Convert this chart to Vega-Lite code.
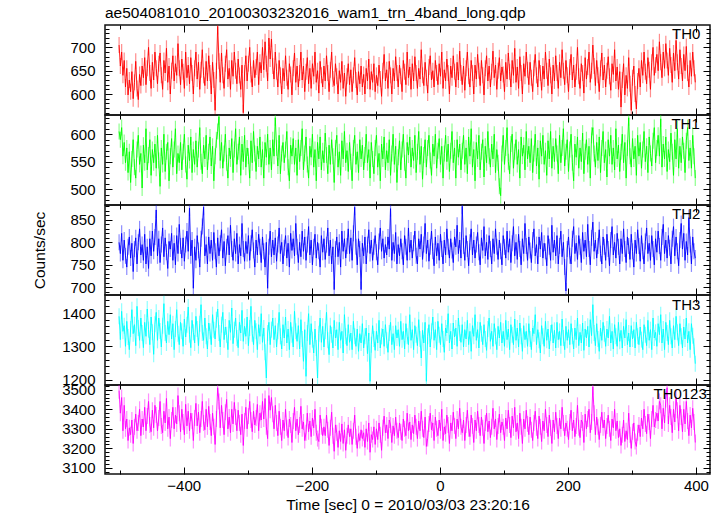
{
"$schema":"https://vega.github.io/schema/vega-lite/v6.json",
"padding":{"left":32,"top":6,"right":5,"bottom":0},
"title":{"text":"ae504081010_20100303232016_wam1_trn_4band_long.qdp","anchor":"start","frame":"group","fontSize":15.5,"fontWeight":"normal","font":"Liberation Sans","color":"#000","offset":2},
"spacing":0,
"bounds":"flush",
"config":{"view":{"stroke":"#111","strokeWidth":1.5},"axis":{"labelFont":"Liberation Sans","labelFontSize":15,"labelColor":"#000","titleFont":"Liberation Sans","titleFontSize":15.5,"titleFontWeight":"normal","titleColor":"#000","domain":false,"grid":false,"tickColor":"#000","tickWidth":1}},
"data":{"values":[
{"t":-501,"a":705,"b":605,"c":800,"d":1390,"e":3495},
{"t":-499,"a":660,"b":590,"c":775,"d":1320,"e":3380},
{"t":-497,"a":690,"b":612,"c":820,"d":1405,"e":3460},
{"t":-495,"a":640,"b":560,"c":760,"d":1345,"e":3290},
{"t":-493,"a":672,"b":585,"c":805,"d":1362,"e":3420},
{"t":-491,"a":615,"b":548,"c":770,"d":1300,"e":3300},
{"t":-489,"a":655,"b":575,"c":745,"d":1375,"e":3350},
{"t":-487,"a":598,"b":530,"c":790,"d":1328,"e":3240},
{"t":-485,"a":630,"b":568,"c":812,"d":1290,"e":3305},
{"t":-483,"a":605,"b":512,"c":765,"d":1352,"e":3270},
{"t":-481,"a":648,"b":555,"c":798,"d":1410,"e":3345},
{"t":-479,"a":590,"b":590,"c":735,"d":1338,"e":3225},
{"t":-477,"a":625,"b":540,"c":785,"d":1365,"e":3310},
{"t":-475,"a":670,"b":520,"c":810,"d":1302,"e":3375},
{"t":-473,"a":612,"b":572,"c":752,"d":1420,"e":3290},
{"t":-471,"a":588,"b":598,"c":800,"d":1355,"e":3330},
{"t":-469,"a":642,"b":545,"c":830,"d":1318,"e":3400},
{"t":-467,"a":618,"b":565,"c":772,"d":1385,"e":3265},
{"t":-465,"a":660,"b":502,"c":795,"d":1340,"e":3350},
{"t":-463,"a":635,"b":580,"c":760,"d":1296,"e":3310},
{"t":-461,"a":678,"b":548,"c":818,"d":1372,"e":3410},
{"t":-459,"a":620,"b":610,"c":752,"d":1330,"e":3290},
{"t":-457,"a":655,"b":535,"c":790,"d":1412,"e":3365},
{"t":-455,"a":700,"b":562,"c":742,"d":1350,"e":3440},
{"t":-453,"a":645,"b":590,"c":808,"d":1305,"e":3320},
{"t":-451,"a":612,"b":525,"c":770,"d":1388,"e":3285},
{"t":-449,"a":668,"b":572,"c":825,"d":1342,"e":3395},
{"t":-447,"a":630,"b":548,"c":780,"d":1276,"e":3305},
{"t":-445,"a":690,"b":582,"c":812,"d":1366,"e":3420},
{"t":-443,"a":655,"b":538,"c":872,"d":1402,"e":3370},
{"t":-441,"a":622,"b":598,"c":770,"d":1318,"e":3290},
{"t":-439,"a":665,"b":552,"c":808,"d":1385,"e":3355},
{"t":-437,"a":688,"b":505,"c":755,"d":1346,"e":3440},
{"t":-435,"a":640,"b":575,"c":795,"d":1298,"e":3315},
{"t":-433,"a":610,"b":545,"c":832,"d":1362,"e":3280},
{"t":-431,"a":672,"b":600,"c":768,"d":1428,"e":3390},
{"t":-429,"a":645,"b":532,"c":810,"d":1340,"e":3330},
{"t":-427,"a":698,"b":568,"c":778,"d":1310,"e":3455},
{"t":-425,"a":625,"b":585,"c":742,"d":1375,"e":3300},
{"t":-423,"a":660,"b":515,"c":802,"d":1335,"e":3360},
{"t":-421,"a":600,"b":560,"c":785,"d":1395,"e":3250},
{"t":-419,"a":650,"b":592,"c":820,"d":1322,"e":3345},
{"t":-417,"a":682,"b":540,"c":760,"d":1368,"e":3410},
{"t":-415,"a":628,"b":572,"c":798,"d":1290,"e":3300},
{"t":-413,"a":665,"b":610,"c":750,"d":1352,"e":3370},
{"t":-411,"a":640,"b":528,"c":815,"d":1410,"e":3325},
{"t":-409,"a":708,"b":565,"c":775,"d":1338,"e":3470},
{"t":-407,"a":655,"b":548,"c":840,"d":1305,"e":3380},
{"t":-405,"a":620,"b":585,"c":792,"d":1372,"e":3285},
{"t":-403,"a":675,"b":535,"c":765,"d":1345,"e":3400},
{"t":-401,"a":648,"b":568,"c":810,"d":1300,"e":3335},
{"t":-399,"a":612,"b":600,"c":758,"d":1382,"e":3270},
{"t":-397,"a":690,"b":545,"c":795,"d":1328,"e":3425},
{"t":-395,"a":635,"b":518,"c":825,"d":1365,"e":3315},
{"t":-393,"a":662,"b":580,"c":780,"d":1418,"e":3390},
{"t":-391,"a":622,"b":552,"c":876,"d":1335,"e":3290},
{"t":-389,"a":678,"b":595,"c":770,"d":1296,"e":3380},
{"t":-387,"a":645,"b":530,"c":805,"d":1378,"e":3340},
{"t":-385,"a":600,"b":572,"c":698,"d":1342,"e":3240},
{"t":-383,"a":655,"b":545,"c":790,"d":1310,"e":3355},
{"t":-381,"a":690,"b":588,"c":760,"d":1390,"e":3430},
{"t":-379,"a":632,"b":540,"c":815,"d":1352,"e":3315},
{"t":-377,"a":668,"b":572,"c":782,"d":1302,"e":3385},
{"t":-375,"a":610,"b":612,"c":745,"d":1368,"e":3280},
{"t":-373,"a":652,"b":550,"c":808,"d":1425,"e":3350},
{"t":-371,"a":695,"b":528,"c":835,"d":1340,"e":3440},
{"t":-369,"a":640,"b":580,"c":878,"d":1318,"e":3330},
{"t":-367,"a":618,"b":555,"c":770,"d":1385,"e":3295},
{"t":-365,"a":670,"b":598,"c":795,"d":1330,"e":3400},
{"t":-363,"a":628,"b":535,"c":752,"d":1292,"e":3310},
{"t":-361,"a":682,"b":568,"c":812,"d":1370,"e":3415},
{"t":-359,"a":645,"b":595,"c":775,"d":1345,"e":3335},
{"t":-357,"a":600,"b":542,"c":805,"d":1305,"e":3265},
{"t":-355,"a":668,"b":578,"c":760,"d":1395,"e":3380},
{"t":-353,"a":630,"b":515,"c":822,"d":1350,"e":3310},
{"t":-351,"a":565,"b":560,"c":780,"d":1322,"e":3220},
{"t":-349,"a":650,"b":590,"c":745,"d":1380,"e":3350},
{"t":-347,"a":745,"b":605,"c":810,"d":1412,"e":3510},
{"t":-345,"a":670,"b":632,"c":770,"d":1340,"e":3440},
{"t":-343,"a":625,"b":552,"c":798,"d":1298,"e":3305},
{"t":-341,"a":688,"b":585,"c":828,"d":1365,"e":3420},
{"t":-339,"a":640,"b":538,"c":765,"d":1402,"e":3345},
{"t":-337,"a":612,"b":565,"c":802,"d":1320,"e":3270},
{"t":-335,"a":665,"b":600,"c":748,"d":1358,"e":3385},
{"t":-333,"a":695,"b":548,"c":790,"d":1335,"e":3450},
{"t":-331,"a":632,"b":520,"c":815,"d":1290,"e":3300},
{"t":-329,"a":655,"b":575,"c":772,"d":1378,"e":3360},
{"t":-327,"a":610,"b":555,"c":838,"d":1342,"e":3280},
{"t":-325,"a":672,"b":592,"c":785,"d":1415,"e":3400},
{"t":-323,"a":638,"b":530,"c":760,"d":1308,"e":3325},
{"t":-321,"a":690,"b":572,"c":808,"d":1350,"e":3435},
{"t":-319,"a":650,"b":610,"c":775,"d":1385,"e":3360},
{"t":-317,"a":622,"b":545,"c":820,"d":1325,"e":3290},
{"t":-315,"a":675,"b":568,"c":752,"d":1296,"e":3395},
{"t":-313,"a":640,"b":595,"c":795,"d":1372,"e":3330},
{"t":-311,"a":610,"b":525,"c":770,"d":1340,"e":3270},
{"t":-309,"a":662,"b":582,"c":842,"d":1408,"e":3375},
{"t":-307,"a":560,"b":550,"c":785,"d":1315,"e":3215},
{"t":-305,"a":645,"b":598,"c":758,"d":1360,"e":3340},
{"t":-303,"a":682,"b":540,"c":802,"d":1330,"e":3410},
{"t":-301,"a":628,"b":575,"c":775,"d":1388,"e":3300},
{"t":-299,"a":665,"b":560,"c":815,"d":1302,"e":3365},
{"t":-297,"a":700,"b":520,"c":760,"d":1355,"e":3440},
{"t":-295,"a":642,"b":588,"c":798,"d":1420,"e":3345},
{"t":-293,"a":615,"b":548,"c":828,"d":1338,"e":3285},
{"t":-291,"a":672,"b":605,"c":782,"d":1305,"e":3390},
{"t":-289,"a":635,"b":565,"c":745,"d":1378,"e":3320},
{"t":-287,"a":658,"b":532,"c":805,"d":1345,"e":3355},
{"t":-285,"a":690,"b":578,"c":772,"d":1290,"e":3425},
{"t":-283,"a":620,"b":555,"c":818,"d":1365,"e":3290},
{"t":-281,"a":668,"b":595,"c":790,"d":1330,"e":3380},
{"t":-279,"a":645,"b":540,"c":755,"d":1398,"e":3345},
{"t":-277,"a":700,"b":572,"c":812,"d":1312,"e":3440},
{"t":-275,"a":652,"b":520,"c":780,"d":1355,"e":3350},
{"t":-273,"a":712,"b":585,"c":745,"d":1282,"e":3455},
{"t":-271,"a":665,"b":558,"c":800,"d":1205,"e":3310},
{"t":-269,"a":628,"b":600,"c":698,"d":1340,"e":3250},
{"t":-267,"a":720,"b":545,"c":790,"d":1372,"e":3470},
{"t":-265,"a":675,"b":575,"c":825,"d":1305,"e":3395},
{"t":-263,"a":718,"b":535,"c":768,"d":1350,"e":3460},
{"t":-261,"a":660,"b":590,"c":805,"d":1385,"e":3375},
{"t":-259,"a":632,"b":560,"c":772,"d":1320,"e":3300},
{"t":-257,"a":690,"b":630,"c":810,"d":1362,"e":3420},
{"t":-255,"a":648,"b":575,"c":758,"d":1298,"e":3330},
{"t":-253,"a":615,"b":542,"c":795,"d":1345,"e":3265},
{"t":-251,"a":672,"b":598,"c":832,"d":1402,"e":3390},
{"t":-249,"a":640,"b":528,"c":775,"d":1330,"e":3310},
{"t":-247,"a":600,"b":565,"c":800,"d":1292,"e":3240},
{"t":-245,"a":655,"b":585,"c":752,"d":1365,"e":3345},
{"t":-243,"a":628,"b":548,"c":788,"d":1325,"e":3290},
{"t":-241,"a":682,"b":572,"c":815,"d":1388,"e":3400},
{"t":-239,"a":635,"b":605,"c":765,"d":1310,"e":3305},
{"t":-237,"a":610,"b":540,"c":798,"d":1352,"e":3255},
{"t":-235,"a":665,"b":515,"c":745,"d":1290,"e":3350},
{"t":-233,"a":642,"b":580,"c":820,"d":1372,"e":3320},
{"t":-231,"a":598,"b":560,"c":782,"d":1335,"e":3230},
{"t":-229,"a":655,"b":592,"c":808,"d":1298,"e":3340},
{"t":-227,"a":688,"b":545,"c":770,"d":1405,"e":3410},
{"t":-225,"a":625,"b":575,"c":842,"d":1345,"e":3290},
{"t":-223,"a":660,"b":525,"c":790,"d":1315,"e":3350},
{"t":-221,"a":615,"b":590,"c":755,"d":1362,"e":3270},
{"t":-219,"a":645,"b":550,"c":800,"d":1292,"e":3320},
{"t":-217,"a":690,"b":575,"c":768,"d":1380,"e":3415},
{"t":-215,"a":630,"b":610,"c":825,"d":1322,"e":3300},
{"t":-213,"a":660,"b":535,"c":780,"d":1255,"e":3335},
{"t":-211,"a":605,"b":565,"c":812,"d":1350,"e":3240},
{"t":-209,"a":648,"b":595,"c":760,"d":1210,"e":3280},
{"t":-207,"a":678,"b":545,"c":795,"d":1340,"e":3380},
{"t":-205,"a":622,"b":520,"c":835,"d":1398,"e":3285},
{"t":-203,"a":655,"b":578,"c":772,"d":1305,"e":3340},
{"t":-201,"a":612,"b":558,"c":805,"d":1368,"e":3260},
{"t":-199,"a":665,"b":600,"c":750,"d":1320,"e":3355},
{"t":-197,"a":638,"b":540,"c":790,"d":1280,"e":3305},
{"t":-195,"a":690,"b":572,"c":818,"d":1352,"e":3400},
{"t":-193,"a":625,"b":515,"c":765,"d":1295,"e":3280},
{"t":-191,"a":650,"b":585,"c":800,"d":1205,"e":3250},
{"t":-189,"a":602,"b":555,"c":780,"d":1338,"e":3235},
{"t":-187,"a":670,"b":595,"c":745,"d":1385,"e":3370},
{"t":-185,"a":640,"b":535,"c":815,"d":1312,"e":3310},
{"t":-183,"a":615,"b":570,"c":778,"d":1360,"e":3265},
{"t":-181,"a":660,"b":548,"c":808,"d":1298,"e":3310},
{"t":-179,"a":628,"b":602,"c":762,"d":1345,"e":3265},
{"t":-177,"a":682,"b":562,"c":795,"d":1402,"e":3370},
{"t":-175,"a":645,"b":528,"c":832,"d":1318,"e":3295},
{"t":-173,"a":605,"b":580,"c":770,"d":1275,"e":3215},
{"t":-171,"a":652,"b":545,"c":805,"d":1362,"e":3305},
{"t":-169,"a":690,"b":590,"c":752,"d":1335,"e":3385},
{"t":-167,"a":632,"b":560,"c":790,"d":1295,"e":3265},
{"t":-165,"a":618,"b":512,"c":695,"d":1378,"e":3185},
{"t":-163,"a":665,"b":575,"c":785,"d":1325,"e":3320},
{"t":-161,"a":638,"b":598,"c":812,"d":1350,"e":3280},
{"t":-159,"a":600,"b":540,"c":768,"d":1290,"e":3205},
{"t":-157,"a":650,"b":568,"c":800,"d":1372,"e":3290},
{"t":-155,"a":625,"b":525,"c":745,"d":1318,"e":3235},
{"t":-153,"a":670,"b":588,"c":825,"d":1345,"e":3325},
{"t":-151,"a":612,"b":555,"c":780,"d":1280,"e":3225},
{"t":-149,"a":645,"b":605,"c":808,"d":1395,"e":3295},
{"t":-147,"a":595,"b":548,"c":765,"d":1330,"e":3190},
{"t":-145,"a":638,"b":570,"c":792,"d":1302,"e":3265},
{"t":-143,"a":665,"b":532,"c":830,"d":1365,"e":3320},
{"t":-141,"a":620,"b":585,"c":775,"d":1312,"e":3260},
{"t":-139,"a":652,"b":550,"c":810,"d":1340,"e":3300},
{"t":-137,"a":605,"b":515,"c":760,"d":1290,"e":3220},
{"t":-135,"a":640,"b":575,"c":820,"d":1375,"e":3290},
{"t":-133,"a":678,"b":598,"c":878,"d":1330,"e":3370},
{"t":-131,"a":630,"b":545,"c":790,"d":1300,"e":3260},
{"t":-129,"a":598,"b":568,"c":750,"d":1352,"e":3200},
{"t":-127,"a":648,"b":530,"c":808,"d":1285,"e":3275},
{"t":-125,"a":622,"b":590,"c":785,"d":1338,"e":3240},
{"t":-123,"a":660,"b":555,"c":695,"d":1310,"e":3295},
{"t":-121,"a":615,"b":580,"c":798,"d":1368,"e":3250},
{"t":-119,"a":642,"b":535,"c":770,"d":1295,"e":3280},
{"t":-117,"a":600,"b":562,"c":812,"d":1330,"e":3205},
{"t":-115,"a":655,"b":600,"c":752,"d":1355,"e":3300},
{"t":-113,"a":628,"b":548,"c":795,"d":1278,"e":3235},
{"t":-111,"a":675,"b":572,"c":828,"d":1340,"e":3330},
{"t":-109,"a":610,"b":520,"c":775,"d":1195,"e":3180},
{"t":-107,"a":648,"b":585,"c":805,"d":1305,"e":3270},
{"t":-105,"a":625,"b":555,"c":760,"d":1362,"e":3245},
{"t":-103,"a":665,"b":528,"c":790,"d":1322,"e":3310},
{"t":-101,"a":605,"b":575,"c":815,"d":1288,"e":3220},
{"t":-99,"a":640,"b":598,"c":778,"d":1345,"e":3300},
{"t":-97,"a":618,"b":540,"c":750,"d":1310,"e":3245},
{"t":-95,"a":662,"b":565,"c":802,"d":1378,"e":3330},
{"t":-93,"a":632,"b":515,"c":832,"d":1295,"e":3270},
{"t":-91,"a":595,"b":582,"c":780,"d":1330,"e":3190},
{"t":-89,"a":650,"b":555,"c":808,"d":1352,"e":3305},
{"t":-87,"a":685,"b":595,"c":765,"d":1300,"e":3365},
{"t":-85,"a":628,"b":535,"c":795,"d":1365,"e":3280},
{"t":-83,"a":652,"b":570,"c":772,"d":1318,"e":3320},
{"t":-81,"a":612,"b":548,"c":812,"d":1282,"e":3250},
{"t":-79,"a":670,"b":590,"c":785,"d":1340,"e":3345},
{"t":-77,"a":640,"b":525,"c":875,"d":1372,"e":3320},
{"t":-75,"a":600,"b":565,"c":760,"d":1305,"e":3230},
{"t":-73,"a":655,"b":600,"c":800,"d":1338,"e":3315},
{"t":-71,"a":628,"b":545,"c":775,"d":1290,"e":3265},
{"t":-69,"a":680,"b":578,"c":822,"d":1362,"e":3360},
{"t":-67,"a":645,"b":512,"c":752,"d":1325,"e":3290},
{"t":-65,"a":615,"b":558,"c":795,"d":1350,"e":3255},
{"t":-63,"a":662,"b":588,"c":770,"d":1300,"e":3330},
{"t":-61,"a":638,"b":535,"c":808,"d":1375,"e":3285},
{"t":-59,"a":605,"b":572,"c":780,"d":1320,"e":3240},
{"t":-57,"a":672,"b":600,"c":750,"d":1345,"e":3350},
{"t":-55,"a":648,"b":548,"c":815,"d":1292,"e":3300},
{"t":-53,"a":620,"b":520,"c":790,"d":1368,"e":3265},
{"t":-51,"a":690,"b":585,"c":760,"d":1330,"e":3380},
{"t":-49,"a":635,"b":562,"c":832,"d":1305,"e":3290},
{"t":-47,"a":658,"b":595,"c":778,"d":1395,"e":3335},
{"t":-45,"a":610,"b":540,"c":805,"d":1318,"e":3245},
{"t":-43,"a":665,"b":575,"c":765,"d":1350,"e":3320},
{"t":-41,"a":628,"b":552,"c":798,"d":1290,"e":3275},
{"t":-39,"a":680,"b":598,"c":825,"d":1362,"e":3370},
{"t":-37,"a":645,"b":530,"c":770,"d":1335,"e":3310},
{"t":-35,"a":612,"b":568,"c":752,"d":1302,"e":3250},
{"t":-33,"a":655,"b":605,"c":808,"d":1380,"e":3340},
{"t":-31,"a":632,"b":545,"c":785,"d":1322,"e":3290},
{"t":-29,"a":695,"b":578,"c":818,"d":1265,"e":3390},
{"t":-27,"a":640,"b":518,"c":762,"d":1348,"e":3300},
{"t":-25,"a":618,"b":562,"c":795,"d":1310,"e":3255},
{"t":-23,"a":668,"b":590,"c":842,"d":1372,"e":3360},
{"t":-21,"a":635,"b":540,"c":775,"d":1195,"e":3210},
{"t":-19,"a":602,"b":575,"c":805,"d":1330,"e":3250},
{"t":-17,"a":658,"b":598,"c":758,"d":1365,"e":3325},
{"t":-15,"a":682,"b":552,"c":790,"d":1298,"e":3380},
{"t":-13,"a":630,"b":525,"c":825,"d":1345,"e":3295},
{"t":-11,"a":650,"b":582,"c":780,"d":1388,"e":3330},
{"t":-9,"a":615,"b":560,"c":748,"d":1318,"e":3240},
{"t":-7,"a":672,"b":600,"c":812,"d":1350,"e":3360},
{"t":-5,"a":645,"b":538,"c":770,"d":1290,"e":3300},
{"t":-3,"a":620,"b":570,"c":798,"d":1375,"e":3265},
{"t":-1,"a":665,"b":592,"c":760,"d":1335,"e":3345},
{"t":1,"a":638,"b":545,"c":818,"d":1305,"e":3290},
{"t":3,"a":690,"b":578,"c":785,"d":1368,"e":3400},
{"t":5,"a":612,"b":520,"c":752,"d":1322,"e":3240},
{"t":7,"a":652,"b":565,"c":805,"d":1282,"e":3310},
{"t":9,"a":628,"b":598,"c":772,"d":1355,"e":3275},
{"t":11,"a":675,"b":550,"c":830,"d":1340,"e":3370},
{"t":13,"a":645,"b":582,"c":790,"d":1398,"e":3320},
{"t":15,"a":600,"b":532,"c":765,"d":1310,"e":3225},
{"t":17,"a":660,"b":570,"c":808,"d":1345,"e":3330},
{"t":19,"a":635,"b":605,"c":782,"d":1292,"e":3290},
{"t":21,"a":682,"b":548,"c":755,"d":1370,"e":3385},
{"t":23,"a":648,"b":575,"c":812,"d":1328,"e":3315},
{"t":25,"a":615,"b":520,"c":790,"d":1355,"e":3250},
{"t":27,"a":668,"b":590,"c":838,"d":1300,"e":3350},
{"t":29,"a":630,"b":558,"c":775,"d":1385,"e":3300},
{"t":31,"a":692,"b":582,"c":805,"d":1340,"e":3405},
{"t":33,"a":645,"b":535,"c":765,"d":1312,"e":3310},
{"t":35,"a":620,"b":570,"c":880,"d":1365,"e":3280},
{"t":37,"a":660,"b":598,"c":792,"d":1298,"e":3345},
{"t":39,"a":608,"b":545,"c":760,"d":1350,"e":3240},
{"t":41,"a":655,"b":575,"c":815,"d":1322,"e":3320},
{"t":43,"a":690,"b":528,"c":785,"d":1378,"e":3395},
{"t":45,"a":638,"b":595,"c":748,"d":1305,"e":3300},
{"t":47,"a":615,"b":560,"c":800,"d":1345,"e":3260},
{"t":49,"a":672,"b":610,"c":830,"d":1285,"e":3370},
{"t":51,"a":645,"b":540,"c":772,"d":1362,"e":3315},
{"t":53,"a":600,"b":572,"c":805,"d":1330,"e":3230},
{"t":55,"a":662,"b":515,"c":765,"d":1395,"e":3345},
{"t":57,"a":632,"b":585,"c":795,"d":1318,"e":3290},
{"t":59,"a":685,"b":555,"c":822,"d":1350,"e":3390},
{"t":61,"a":650,"b":598,"c":778,"d":1295,"e":3320},
{"t":63,"a":618,"b":535,"c":750,"d":1372,"e":3265},
{"t":65,"a":672,"b":568,"c":810,"d":1338,"e":3360},
{"t":67,"a":640,"b":590,"c":782,"d":1305,"e":3305},
{"t":69,"a":598,"b":522,"c":835,"d":1365,"e":3225},
{"t":71,"a":655,"b":578,"c":770,"d":1322,"e":3330},
{"t":73,"a":682,"b":548,"c":800,"d":1288,"e":3380},
{"t":75,"a":628,"b":605,"c":762,"d":1352,"e":3285},
{"t":77,"a":660,"b":560,"c":815,"d":1385,"e":3340},
{"t":79,"a":615,"b":540,"c":785,"d":1315,"e":3255},
{"t":81,"a":648,"b":582,"c":752,"d":1345,"e":3310},
{"t":83,"a":692,"b":555,"c":808,"d":1300,"e":3405},
{"t":85,"a":635,"b":600,"c":775,"d":1368,"e":3300},
{"t":87,"a":662,"b":530,"c":830,"d":1330,"e":3350},
{"t":89,"a":610,"b":572,"c":790,"d":1290,"e":3245},
{"t":91,"a":650,"b":548,"c":762,"d":1360,"e":3315},
{"t":93,"a":678,"b":505,"c":805,"d":1325,"e":3375},
{"t":95,"a":628,"b":488,"c":780,"d":1372,"e":3280},
{"t":97,"a":658,"b":565,"c":750,"d":1310,"e":3335},
{"t":99,"a":642,"b":598,"c":815,"d":1345,"e":3310},
{"t":101,"a":605,"b":545,"c":790,"d":1300,"e":3240},
{"t":103,"a":668,"b":575,"c":765,"d":1378,"e":3355},
{"t":105,"a":632,"b":612,"c":825,"d":1320,"e":3300},
{"t":107,"a":688,"b":550,"c":778,"d":1352,"e":3395},
{"t":109,"a":648,"b":528,"c":808,"d":1290,"e":3320},
{"t":111,"a":615,"b":582,"c":755,"d":1365,"e":3255},
{"t":113,"a":672,"b":600,"c":798,"d":1335,"e":3365},
{"t":115,"a":640,"b":538,"c":835,"d":1305,"e":3305},
{"t":117,"a":698,"b":568,"c":770,"d":1382,"e":3410},
{"t":119,"a":625,"b":590,"c":800,"d":1318,"e":3285},
{"t":121,"a":658,"b":545,"c":762,"d":1355,"e":3330},
{"t":123,"a":612,"b":572,"c":818,"d":1298,"e":3250},
{"t":125,"a":680,"b":520,"c":785,"d":1370,"e":3380},
{"t":127,"a":645,"b":595,"c":750,"d":1330,"e":3310},
{"t":129,"a":600,"b":560,"c":808,"d":1285,"e":3225},
{"t":131,"a":665,"b":580,"c":775,"d":1362,"e":3350},
{"t":133,"a":638,"b":535,"c":842,"d":1320,"e":3300},
{"t":135,"a":690,"b":605,"c":792,"d":1345,"e":3395},
{"t":137,"a":652,"b":555,"c":760,"d":1300,"e":3325},
{"t":139,"a":620,"b":578,"c":812,"d":1368,"e":3270},
{"t":141,"a":668,"b":548,"c":782,"d":1322,"e":3360},
{"t":143,"a":635,"b":592,"c":755,"d":1290,"e":3295},
{"t":145,"a":605,"b":530,"c":805,"d":1355,"e":3240},
{"t":147,"a":655,"b":565,"c":830,"d":1338,"e":3330},
{"t":149,"a":685,"b":600,"c":770,"d":1395,"e":3390},
{"t":151,"a":640,"b":542,"c":795,"d":1305,"e":3305},
{"t":153,"a":615,"b":575,"c":752,"d":1350,"e":3250},
{"t":155,"a":672,"b":518,"c":812,"d":1318,"e":3365},
{"t":157,"a":645,"b":588,"c":785,"d":1280,"e":3310},
{"t":159,"a":608,"b":560,"c":822,"d":1362,"e":3235},
{"t":161,"a":660,"b":598,"c":765,"d":1330,"e":3340},
{"t":163,"a":632,"b":545,"c":798,"d":1300,"e":3290},
{"t":165,"a":690,"b":570,"c":780,"d":1375,"e":3400},
{"t":167,"a":650,"b":525,"c":748,"d":1318,"e":3320},
{"t":169,"a":618,"b":588,"c":815,"d":1352,"e":3260},
{"t":171,"a":675,"b":555,"c":790,"d":1292,"e":3370},
{"t":173,"a":640,"b":605,"c":760,"d":1340,"e":3305},
{"t":175,"a":600,"b":538,"c":838,"d":1365,"e":3225},
{"t":177,"a":662,"b":578,"c":778,"d":1310,"e":3345},
{"t":179,"a":628,"b":550,"c":805,"d":1348,"e":3285},
{"t":181,"a":682,"b":592,"c":770,"d":1295,"e":3385},
{"t":183,"a":645,"b":565,"c":815,"d":1372,"e":3315},
{"t":185,"a":612,"b":528,"c":752,"d":1320,"e":3250},
{"t":187,"a":668,"b":598,"c":792,"d":1345,"e":3355},
{"t":189,"a":635,"b":548,"c":825,"d":1302,"e":3300},
{"t":191,"a":695,"b":575,"c":768,"d":1382,"e":3410},
{"t":193,"a":650,"b":610,"c":800,"d":1325,"e":3330},
{"t":195,"a":620,"b":542,"c":745,"d":1290,"e":3265},
{"t":197,"a":672,"b":568,"c":692,"d":1360,"e":3330},
{"t":199,"a":640,"b":590,"c":785,"d":1318,"e":3300},
{"t":201,"a":605,"b":532,"c":812,"d":1350,"e":3245},
{"t":203,"a":658,"b":572,"c":770,"d":1305,"e":3335},
{"t":205,"a":685,"b":600,"c":752,"d":1368,"e":3395},
{"t":207,"a":630,"b":548,"c":808,"d":1330,"e":3290},
{"t":209,"a":662,"b":515,"c":835,"d":1292,"e":3345},
{"t":211,"a":615,"b":582,"c":775,"d":1355,"e":3260},
{"t":213,"a":648,"b":558,"c":798,"d":1320,"e":3315},
{"t":215,"a":700,"b":595,"c":762,"d":1385,"e":3420},
{"t":217,"a":638,"b":538,"c":815,"d":1302,"e":3305},
{"t":219,"a":612,"b":575,"c":790,"d":1342,"e":3255},
{"t":221,"a":665,"b":550,"c":755,"d":1310,"e":3345},
{"t":223,"a":645,"b":602,"c":822,"d":1370,"e":3330},
{"t":225,"a":602,"b":528,"c":780,"d":1288,"e":3230},
{"t":227,"a":678,"b":568,"c":805,"d":1352,"e":3375},
{"t":229,"a":632,"b":590,"c":768,"d":1325,"e":3300},
{"t":231,"a":658,"b":545,"c":840,"d":1360,"e":3350},
{"t":233,"a":690,"b":578,"c":785,"d":1298,"e":3400},
{"t":235,"a":625,"b":520,"c":750,"d":1380,"e":3280},
{"t":237,"a":650,"b":598,"c":810,"d":1332,"e":3335},
{"t":239,"a":705,"b":612,"c":845,"d":1425,"e":3515},
{"t":241,"a":660,"b":565,"c":780,"d":1340,"e":3380},
{"t":243,"a":618,"b":540,"c":805,"d":1302,"e":3270},
{"t":245,"a":672,"b":585,"c":765,"d":1368,"e":3360},
{"t":247,"a":640,"b":552,"c":792,"d":1322,"e":3310},
{"t":249,"a":605,"b":595,"c":828,"d":1285,"e":3245},
{"t":251,"a":655,"b":530,"c":775,"d":1355,"e":3320},
{"t":253,"a":688,"b":575,"c":752,"d":1318,"e":3385},
{"t":255,"a":630,"b":605,"c":812,"d":1372,"e":3305},
{"t":257,"a":662,"b":548,"c":790,"d":1338,"e":3345},
{"t":259,"a":615,"b":572,"c":760,"d":1300,"e":3250},
{"t":261,"a":650,"b":522,"c":818,"d":1352,"e":3315},
{"t":263,"a":680,"b":590,"c":785,"d":1325,"e":3370},
{"t":265,"a":638,"b":560,"c":748,"d":1390,"e":3300},
{"t":267,"a":608,"b":598,"c":805,"d":1310,"e":3240},
{"t":269,"a":665,"b":545,"c":835,"d":1345,"e":3350},
{"t":271,"a":642,"b":575,"c":772,"d":1292,"e":3305},
{"t":273,"a":695,"b":535,"c":800,"d":1365,"e":3400},
{"t":275,"a":628,"b":610,"c":765,"d":1330,"e":3290},
{"t":277,"a":658,"b":555,"c":820,"d":1300,"e":3340},
{"t":279,"a":610,"b":580,"c":790,"d":1372,"e":3255},
{"t":281,"a":648,"b":532,"c":752,"d":1315,"e":3300},
{"t":283,"a":572,"b":568,"c":808,"d":1348,"e":3215},
{"t":285,"a":630,"b":600,"c":775,"d":1295,"e":3270},
{"t":287,"a":665,"b":548,"c":830,"d":1360,"e":3345},
{"t":289,"a":598,"b":585,"c":785,"d":1325,"e":3235},
{"t":291,"a":640,"b":520,"c":755,"d":1380,"e":3290},
{"t":293,"a":612,"b":575,"c":812,"d":1305,"e":3245},
{"t":295,"a":678,"b":630,"c":792,"d":1340,"e":3380},
{"t":297,"a":622,"b":560,"c":762,"d":1298,"e":3270},
{"t":299,"a":565,"b":540,"c":818,"d":1362,"e":3200},
{"t":301,"a":635,"b":592,"c":780,"d":1322,"e":3285},
{"t":303,"a":660,"b":555,"c":745,"d":1350,"e":3330},
{"t":305,"a":600,"b":578,"c":805,"d":1295,"e":3235},
{"t":307,"a":568,"b":525,"c":775,"d":1372,"e":3210},
{"t":309,"a":628,"b":598,"c":828,"d":1330,"e":3280},
{"t":311,"a":655,"b":560,"c":792,"d":1305,"e":3320},
{"t":313,"a":615,"b":585,"c":758,"d":1358,"e":3260},
{"t":315,"a":672,"b":538,"c":815,"d":1320,"e":3355},
{"t":317,"a":640,"b":572,"c":780,"d":1290,"e":3300},
{"t":319,"a":690,"b":605,"c":752,"d":1365,"e":3400},
{"t":321,"a":648,"b":550,"c":802,"d":1335,"e":3325},
{"t":323,"a":622,"b":578,"c":832,"d":1302,"e":3275},
{"t":325,"a":678,"b":530,"c":775,"d":1378,"e":3375},
{"t":327,"a":652,"b":595,"c":798,"d":1318,"e":3335},
{"t":329,"a":610,"b":565,"c":760,"d":1350,"e":3250},
{"t":331,"a":668,"b":542,"c":815,"d":1290,"e":3350},
{"t":333,"a":700,"b":588,"c":785,"d":1385,"e":3420},
{"t":335,"a":640,"b":612,"c":750,"d":1325,"e":3310},
{"t":337,"a":662,"b":548,"c":808,"d":1342,"e":3345},
{"t":339,"a":685,"b":575,"c":778,"d":1300,"e":3380},
{"t":341,"a":650,"b":598,"c":825,"d":1368,"e":3340},
{"t":343,"a":712,"b":560,"c":792,"d":1335,"e":3440},
{"t":345,"a":668,"b":628,"c":760,"d":1395,"e":3420},
{"t":347,"a":635,"b":540,"c":812,"d":1310,"e":3300},
{"t":349,"a":690,"b":582,"c":840,"d":1352,"e":3405},
{"t":351,"a":655,"b":555,"c":775,"d":1290,"e":3330},
{"t":353,"a":708,"b":595,"c":805,"d":1372,"e":3450},
{"t":355,"a":672,"b":532,"c":765,"d":1340,"e":3510},
{"t":357,"a":640,"b":572,"c":815,"d":1305,"e":3325},
{"t":359,"a":698,"b":550,"c":788,"d":1378,"e":3420},
{"t":361,"a":662,"b":602,"c":752,"d":1330,"e":3360},
{"t":363,"a":625,"b":568,"c":808,"d":1295,"e":3280},
{"t":365,"a":688,"b":525,"c":835,"d":1362,"e":3400},
{"t":367,"a":650,"b":590,"c":770,"d":1320,"e":3335},
{"t":369,"a":715,"b":555,"c":812,"d":1390,"e":3460},
{"t":371,"a":668,"b":610,"c":780,"d":1342,"e":3395},
{"t":373,"a":632,"b":538,"c":748,"d":1302,"e":3290},
{"t":375,"a":695,"b":578,"c":805,"d":1368,"e":3420},
{"t":377,"a":660,"b":548,"c":842,"d":1330,"e":3360},
{"t":379,"a":628,"b":595,"c":785,"d":1295,"e":3285},
{"t":381,"a":685,"b":570,"c":820,"d":1358,"e":3400},
{"t":383,"a":650,"b":530,"c":760,"d":1322,"e":3325},
{"t":385,"a":702,"b":588,"c":802,"d":1385,"e":3440},
{"t":387,"a":645,"b":612,"c":772,"d":1310,"e":3340},
{"t":389,"a":615,"b":552,"c":855,"d":1345,"e":3265},
{"t":391,"a":672,"b":575,"c":795,"d":1290,"e":3370},
{"t":393,"a":638,"b":538,"c":752,"d":1368,"e":3305},
{"t":395,"a":690,"b":598,"c":812,"d":1332,"e":3405},
{"t":397,"a":655,"b":560,"c":780,"d":1300,"e":3335},
{"t":399,"a":625,"b":520,"c":765,"d":1248,"e":3230}
]},
"vconcat":[
{"width":605,"height":90,"layer":[
 {"mark":{"type":"rule","color":"#ff0000","opacity":0.45,"strokeWidth":1.2,"yOffset":-8,"y2Offset":8,"clip":true},
  "encoding":{
   "x":{"field":"t","type":"quantitative","scale":{"domain":[-523,422],"nice":false,"zero":false},"axis":{"orient":"bottom","values":[-500,-400,-300,-200,-100,0,100,200,300,400],"labels":false,"title":null,"tickSize":{"condition":{"test":"datum.value % 200 === 0","value":-7},"value":-4}}},
   "y":{"field":"a","type":"quantitative","scale":{"domain":[555,748],"nice":false,"zero":false},"axis":{"orient":"left","values":[560,570,580,590,600,610,620,630,640,650,660,670,680,690,700,710,720,730,740],"labelExpr":"datum.value % 50 === 0 ? datum.label : ''","labelPadding":17,"title":null,"tickSize":{"condition":{"test":"datum.value % 50 === 0","value":-7},"value":-4}}},
   "y2":{"field":"a"}}},
 {"mark":{"type":"line","color":"#ff0000","strokeWidth":0.9,"clip":true},
  "encoding":{
   "x":{"field":"t","type":"quantitative","axis":{"orient":"top","values":[-500,-400,-300,-200,-100,0,100,200,300,400],"labels":false,"title":null,"tickSize":{"condition":{"test":"datum.value % 200 === 0","value":-7},"value":-4}}},
   "y":{"field":"a","type":"quantitative","axis":{"orient":"right","values":[560,570,580,590,600,610,620,630,640,650,660,670,680,690,700,710,720,730,740],"labels":false,"title":null,"tickSize":{"condition":{"test":"datum.value % 50 === 0","value":-7},"value":-4}}}}},
 {"data":{"values":[{"label":"TH0"}]},"mark":{"type":"text","align":"right","baseline":"top","fontSize":15,"font":"Liberation Sans","color":"#000"},
  "encoding":{"x":{"datum":407,"type":"quantitative","axis":null},"y":{"datum":744,"type":"quantitative","axis":null},"text":{"field":"label"}}}
]},
{"width":605,"height":90,"layer":[
 {"mark":{"type":"rule","color":"#00ff00","opacity":0.45,"strokeWidth":1.2,"yOffset":-8,"y2Offset":8,"clip":true},
  "encoding":{
   "x":{"field":"t","type":"quantitative","scale":{"domain":[-523,422],"nice":false,"zero":false},"axis":{"orient":"bottom","values":[-500,-400,-300,-200,-100,0,100,200,300,400],"labels":false,"title":null,"tickSize":{"condition":{"test":"datum.value % 200 === 0","value":-7},"value":-4}}},
   "y":{"field":"b","type":"quantitative","scale":{"domain":[471,635],"nice":false,"zero":false},"axis":{"orient":"left","values":[480,490,500,510,520,530,540,550,560,570,580,590,600,610,620,630],"labelExpr":"datum.value % 50 === 0 ? datum.label : ''","labelPadding":17,"title":null,"tickSize":{"condition":{"test":"datum.value % 50 === 0","value":-7},"value":-4}}},
   "y2":{"field":"b"}}},
 {"mark":{"type":"line","color":"#00ff00","strokeWidth":0.9,"clip":true},
  "encoding":{
   "x":{"field":"t","type":"quantitative","axis":{"orient":"top","values":[-500,-400,-300,-200,-100,0,100,200,300,400],"labels":false,"title":null,"tickSize":{"condition":{"test":"datum.value % 200 === 0","value":-7},"value":-4}}},
   "y":{"field":"b","type":"quantitative","axis":{"orient":"right","values":[480,490,500,510,520,530,540,550,560,570,580,590,600,610,620,630],"labels":false,"title":null,"tickSize":{"condition":{"test":"datum.value % 50 === 0","value":-7},"value":-4}}}}},
 {"data":{"values":[{"label":"TH1"}]},"mark":{"type":"text","align":"right","baseline":"top","fontSize":15,"font":"Liberation Sans","color":"#000"},
  "encoding":{"x":{"datum":406,"type":"quantitative","axis":null},"y":{"datum":632,"type":"quantitative","axis":null},"text":{"field":"label"}}}
]},
{"width":605,"height":90,"layer":[
 {"mark":{"type":"rule","color":"#0000ff","opacity":0.45,"strokeWidth":1.2,"yOffset":-8,"y2Offset":8,"clip":true},
  "encoding":{
   "x":{"field":"t","type":"quantitative","scale":{"domain":[-523,422],"nice":false,"zero":false},"axis":{"orient":"bottom","values":[-500,-400,-300,-200,-100,0,100,200,300,400],"labels":false,"title":null,"tickSize":{"condition":{"test":"datum.value % 200 === 0","value":-7},"value":-4}}},
   "y":{"field":"c","type":"quantitative","scale":{"domain":[683,883],"nice":false,"zero":false},"axis":{"orient":"left","values":[690,700,710,720,730,740,750,760,770,780,790,800,810,820,830,840,850,860,870,880],"labelExpr":"datum.value % 50 === 0 ? datum.label : ''","labelPadding":17,"title":"Counts/sec","titlePadding":22,"tickSize":{"condition":{"test":"datum.value % 50 === 0","value":-7},"value":-4}}},
   "y2":{"field":"c"}}},
 {"mark":{"type":"line","color":"#0000ff","strokeWidth":0.9,"clip":true},
  "encoding":{
   "x":{"field":"t","type":"quantitative","axis":{"orient":"top","values":[-500,-400,-300,-200,-100,0,100,200,300,400],"labels":false,"title":null,"tickSize":{"condition":{"test":"datum.value % 200 === 0","value":-7},"value":-4}}},
   "y":{"field":"c","type":"quantitative","axis":{"orient":"right","values":[690,700,710,720,730,740,750,760,770,780,790,800,810,820,830,840,850,860,870,880],"labels":false,"title":null,"tickSize":{"condition":{"test":"datum.value % 50 === 0","value":-7},"value":-4}}}}},
 {"data":{"values":[{"label":"TH2"}]},"mark":{"type":"text","align":"right","baseline":"top","fontSize":15,"font":"Liberation Sans","color":"#000"},
  "encoding":{"x":{"datum":407,"type":"quantitative","axis":null},"y":{"datum":878,"type":"quantitative","axis":null},"text":{"field":"label"}}}
]},
{"width":605,"height":90,"layer":[
 {"mark":{"type":"rule","color":"#00ffff","opacity":0.45,"strokeWidth":1.2,"yOffset":-8,"y2Offset":8,"clip":true},
  "encoding":{
   "x":{"field":"t","type":"quantitative","scale":{"domain":[-523,422],"nice":false,"zero":false},"axis":{"orient":"bottom","values":[-500,-400,-300,-200,-100,0,100,200,300,400],"labels":false,"title":null,"tickSize":{"condition":{"test":"datum.value % 200 === 0","value":-7},"value":-4}}},
   "y":{"field":"d","type":"quantitative","scale":{"domain":[1184,1454],"nice":false,"zero":false},"axis":{"orient":"left","values":[1200,1220,1240,1260,1280,1300,1320,1340,1360,1380,1400,1420,1440],"labelExpr":"datum.value % 100 === 0 ? datum.label : ''","format":"d","labelPadding":17,"title":null,"tickSize":{"condition":{"test":"datum.value % 100 === 0","value":-7},"value":-4}}},
   "y2":{"field":"d"}}},
 {"mark":{"type":"line","color":"#00ffff","strokeWidth":0.9,"clip":true},
  "encoding":{
   "x":{"field":"t","type":"quantitative","axis":{"orient":"top","values":[-500,-400,-300,-200,-100,0,100,200,300,400],"labels":false,"title":null,"tickSize":{"condition":{"test":"datum.value % 200 === 0","value":-7},"value":-4}}},
   "y":{"field":"d","type":"quantitative","axis":{"orient":"right","values":[1200,1220,1240,1260,1280,1300,1320,1340,1360,1380,1400,1420,1440],"labels":false,"title":null,"tickSize":{"condition":{"test":"datum.value % 100 === 0","value":-7},"value":-4}}}}},
 {"data":{"values":[{"label":"TH3"}]},"mark":{"type":"text","align":"right","baseline":"top","fontSize":15,"font":"Liberation Sans","color":"#000"},
  "encoding":{"x":{"datum":407,"type":"quantitative","axis":null},"y":{"datum":1446,"type":"quantitative","axis":null},"text":{"field":"label"}}}
]},
{"width":605,"height":89,"layer":[
 {"mark":{"type":"rule","color":"#ff00ff","opacity":0.45,"strokeWidth":1.2,"yOffset":-8,"y2Offset":8,"clip":true},
  "encoding":{
   "x":{"field":"t","type":"quantitative","scale":{"domain":[-523,422],"nice":false,"zero":false},"axis":{"orient":"bottom","values":[-500,-400,-300,-200,-100,0,100,200,300,400],"labelExpr":"datum.value % 200 === 0 ? datum.label : ''","labelPadding":11,"title":"Time [sec] 0 = 2010/03/03 23:20:16","titlePadding":4,"tickSize":{"condition":{"test":"datum.value % 200 === 0","value":-7},"value":-4}}},
   "y":{"field":"e","type":"quantitative","scale":{"domain":[3069,3524],"nice":false,"zero":false},"axis":{"orient":"left","values":[3080,3100,3120,3140,3160,3180,3200,3220,3240,3260,3280,3300,3320,3340,3360,3380,3400,3420,3440,3460,3480,3500,3520],"labelExpr":"datum.value % 100 === 0 ? datum.label : ''","format":"d","labelPadding":17,"title":null,"tickSize":{"condition":{"test":"datum.value % 100 === 0","value":-7},"value":-4}}},
   "y2":{"field":"e"}}},
 {"mark":{"type":"line","color":"#ff00ff","strokeWidth":0.9,"clip":true},
  "encoding":{
   "x":{"field":"t","type":"quantitative","axis":{"orient":"top","values":[-500,-400,-300,-200,-100,0,100,200,300,400],"labels":false,"title":null,"tickSize":{"condition":{"test":"datum.value % 200 === 0","value":-7},"value":-4}}},
   "y":{"field":"e","type":"quantitative","axis":{"orient":"right","values":[3080,3100,3120,3140,3160,3180,3200,3220,3240,3260,3280,3300,3320,3340,3360,3380,3400,3420,3440,3460,3480,3500,3520],"labels":false,"title":null,"tickSize":{"condition":{"test":"datum.value % 100 === 0","value":-7},"value":-4}}}}},
 {"data":{"values":[{"label":"TH0123"}]},"mark":{"type":"text","align":"right","baseline":"top","fontSize":15,"font":"Liberation Sans","color":"#000"},
  "encoding":{"x":{"datum":417,"type":"quantitative","axis":null},"y":{"datum":3514,"type":"quantitative","axis":null},"text":{"field":"label"}}}
]}
]
}
